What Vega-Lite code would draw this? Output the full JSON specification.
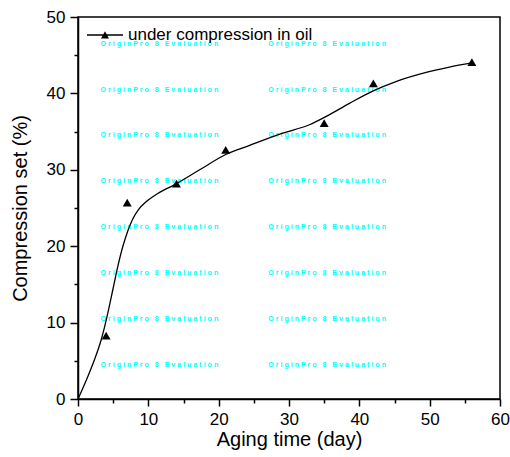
{
  "$schema": "https://vega.github.io/schema/vega-lite/v6.json",
  "width": 422,
  "height": 382,
  "autosize": {"type": "none"},
  "padding": {"left": 78, "top": 17, "right": 10, "bottom": 58},
  "background": "white",
  "config": {
    "view": {"stroke": "black", "strokeWidth": 1.5},
    "font": "Liberation Sans",
    "axis": {"ticks": true, "tickOpacity": 1, "tickColor": "black"}
  },
  "resolve": {"axis": {"x": "independent", "y": "independent"}},
  "datasets": {
    "watermark": [
      {"day": 3.2, "set": 46.5, "label": "O r i g i n P r o\u00a0\u00a0 8\u00a0\u00a0 E v a l u a t i o n"},
      {"day": 3.2, "set": 40.5, "label": "O r i g i n P r o\u00a0\u00a0 8\u00a0\u00a0 E v a l u a t i o n"},
      {"day": 3.2, "set": 34.5, "label": "O r i g i n P r o\u00a0\u00a0 8\u00a0\u00a0 E v a l u a t i o n"},
      {"day": 3.2, "set": 28.5, "label": "O r i g i n P r o\u00a0\u00a0 8\u00a0\u00a0 E v a l u a t i o n"},
      {"day": 3.2, "set": 22.5, "label": "O r i g i n P r o\u00a0\u00a0 8\u00a0\u00a0 E v a l u a t i o n"},
      {"day": 3.2, "set": 16.5, "label": "O r i g i n P r o\u00a0\u00a0 8\u00a0\u00a0 E v a l u a t i o n"},
      {"day": 3.2, "set": 10.5, "label": "O r i g i n P r o\u00a0\u00a0 8\u00a0\u00a0 E v a l u a t i o n"},
      {"day": 3.2, "set": 4.5, "label": "O r i g i n P r o\u00a0\u00a0 8\u00a0\u00a0 E v a l u a t i o n"},
      {"day": 27.05, "set": 46.5, "label": "O r i g i n P r o\u00a0\u00a0 8\u00a0\u00a0 E v a l u a t i o n"},
      {"day": 27.05, "set": 40.5, "label": "O r i g i n P r o\u00a0\u00a0 8\u00a0\u00a0 E v a l u a t i o n"},
      {"day": 27.05, "set": 34.5, "label": "O r i g i n P r o\u00a0\u00a0 8\u00a0\u00a0 E v a l u a t i o n"},
      {"day": 27.05, "set": 28.5, "label": "O r i g i n P r o\u00a0\u00a0 8\u00a0\u00a0 E v a l u a t i o n"},
      {"day": 27.05, "set": 22.5, "label": "O r i g i n P r o\u00a0\u00a0 8\u00a0\u00a0 E v a l u a t i o n"},
      {"day": 27.05, "set": 16.5, "label": "O r i g i n P r o\u00a0\u00a0 8\u00a0\u00a0 E v a l u a t i o n"},
      {"day": 27.05, "set": 10.5, "label": "O r i g i n P r o\u00a0\u00a0 8\u00a0\u00a0 E v a l u a t i o n"},
      {"day": 27.05, "set": 4.5, "label": "O r i g i n P r o\u00a0\u00a0 8\u00a0\u00a0 E v a l u a t i o n"}
    ],
    "curve": [
      {"day": 0, "set": 0},
      {"day": 1.4, "set": 2.96},
      {"day": 2.34, "set": 5.14},
      {"day": 3.3, "set": 7.76},
      {"day": 4.24, "set": 11.25},
      {"day": 4.95, "set": 14.3},
      {"day": 5.66, "set": 17.35},
      {"day": 6.37, "set": 19.96},
      {"day": 7.08, "set": 22.0},
      {"day": 7.8, "set": 23.6},
      {"day": 8.6, "set": 24.8},
      {"day": 9.6, "set": 25.75},
      {"day": 11.34, "set": 26.9},
      {"day": 13.7, "set": 28.03},
      {"day": 17.3, "set": 30.0},
      {"day": 21, "set": 32.0},
      {"day": 24.4, "set": 33.2},
      {"day": 29.1, "set": 34.8},
      {"day": 32.9, "set": 35.9},
      {"day": 35.3, "set": 37.0},
      {"day": 38.6, "set": 38.7},
      {"day": 41.9, "set": 40.3},
      {"day": 45.2, "set": 41.55},
      {"day": 49.5, "set": 42.75},
      {"day": 52.8, "set": 43.45},
      {"day": 56, "set": 44.0}
    ],
    "measured": [
      {"day": 4, "set": 8.3},
      {"day": 7, "set": 25.7},
      {"day": 14, "set": 28.2},
      {"day": 21, "set": 32.6},
      {"day": 35, "set": 36.1},
      {"day": 42, "set": 41.3},
      {"day": 56, "set": 44.1}
    ]
  },
  "layer": [
    {
      "data": {"name": "watermark"},
      "mark": {"type": "text", "align": "left", "baseline": "middle", "fontSize": 7.1, "fontWeight": "bold", "color": "#00ffff"},
      "encoding": {
        "x": {
          "field": "day",
          "type": "quantitative",
          "scale": {"domain": [0, 60], "nice": false, "zero": false},
          "axis": {
            "orient": "bottom",
            "values": [5, 15, 25, 35, 45, 55],
            "labels": false,
            "domain": false,
            "grid": false,
            "ticks": true,
            "tickColor": "black",
            "tickWidth": 1.5,
            "tickSize": 4,
            "title": null
          }
        },
        "y": {
          "field": "set",
          "type": "quantitative",
          "scale": {"domain": [0, 50], "nice": false},
          "axis": {
            "orient": "left",
            "values": [5, 15, 25, 35, 45],
            "labels": false,
            "domain": false,
            "grid": false,
            "ticks": true,
            "tickColor": "black",
            "tickWidth": 1.5,
            "tickSize": 4,
            "title": null
          }
        },
        "text": {"field": "label"}
      }
    },
    {
      "data": {"name": "curve"},
      "mark": {"type": "line", "interpolate": "monotone", "color": "black", "strokeWidth": 1.3},
      "encoding": {
        "x": {
          "field": "day",
          "type": "quantitative",
          "scale": {"domain": [0, 60], "nice": false, "zero": false},
          "axis": {
            "orient": "bottom",
            "values": [0, 10, 20, 30, 40, 50, 60],
            "labelOverlap": false,
            "labelFlush": false,
            "grid": false,
            "domainColor": "black",
            "domainWidth": 1.5,
            "ticks": true,
            "tickColor": "black",
            "tickWidth": 1.5,
            "tickSize": 7,
            "labelFontSize": 17,
            "labelColor": "black",
            "labelPadding": 5,
            "title": "Aging time (day)",
            "titleFontSize": 20,
            "titleFontWeight": "normal",
            "titleColor": "black",
            "titleX": 211,
            "titleY": 40,
            "titleBaseline": "middle",
            "titleAlign": "center"
          }
        },
        "y": {
          "field": "set",
          "type": "quantitative",
          "scale": {"domain": [0, 50], "nice": false},
          "axis": {
            "orient": "left",
            "values": [0, 10, 20, 30, 40, 50],
            "labelOverlap": false,
            "labelFlush": false,
            "grid": false,
            "domainColor": "black",
            "domainWidth": 1.5,
            "ticks": true,
            "tickColor": "black",
            "tickWidth": 1.5,
            "tickSize": 8,
            "labelFontSize": 17,
            "labelColor": "black",
            "labelPadding": 5,
            "title": "Compression set (%)",
            "titleFontSize": 20,
            "titleFontWeight": "normal",
            "titleColor": "black",
            "titleAngle": -90,
            "titleX": -58,
            "titleY": 191,
            "titleBaseline": "middle",
            "titleAlign": "center"
          }
        }
      }
    },
    {
      "data": {"name": "measured"},
      "mark": {"type": "point", "shape": "triangle-up", "filled": true, "size": 80, "opacity": 1},
      "encoding": {
        "x": {
          "field": "day",
          "type": "quantitative",
          "scale": {"domain": [0, 60], "nice": false, "zero": false},
          "axis": null
        },
        "y": {
          "field": "set",
          "type": "quantitative",
          "scale": {"domain": [0, 50], "nice": false},
          "axis": null
        },
        "color": {
          "datum": "under compression in oil",
          "type": "nominal",
          "scale": {"range": ["black"]},
          "legend": {
            "orient": "none",
            "legendX": 9,
            "legendY": 0,
            "title": null,
            "padding": 0,
            "symbolType": "M-1,-0.035L1,-0.035L1,0.035L-1,0.035Z M-0.22,0.19L0,-0.21L0.22,0.19Z",
            "symbolSize": 1296,
            "symbolStrokeWidth": 0,
            "symbolFillColor": "black",
            "symbolOpacity": 1,
            "labelFontSize": 17,
            "labelColor": "black",
            "labelOffset": 5,
            "labelLimit": 0,
            "labelBaseline": "middle"
          }
        }
      }
    }
  ]
}
